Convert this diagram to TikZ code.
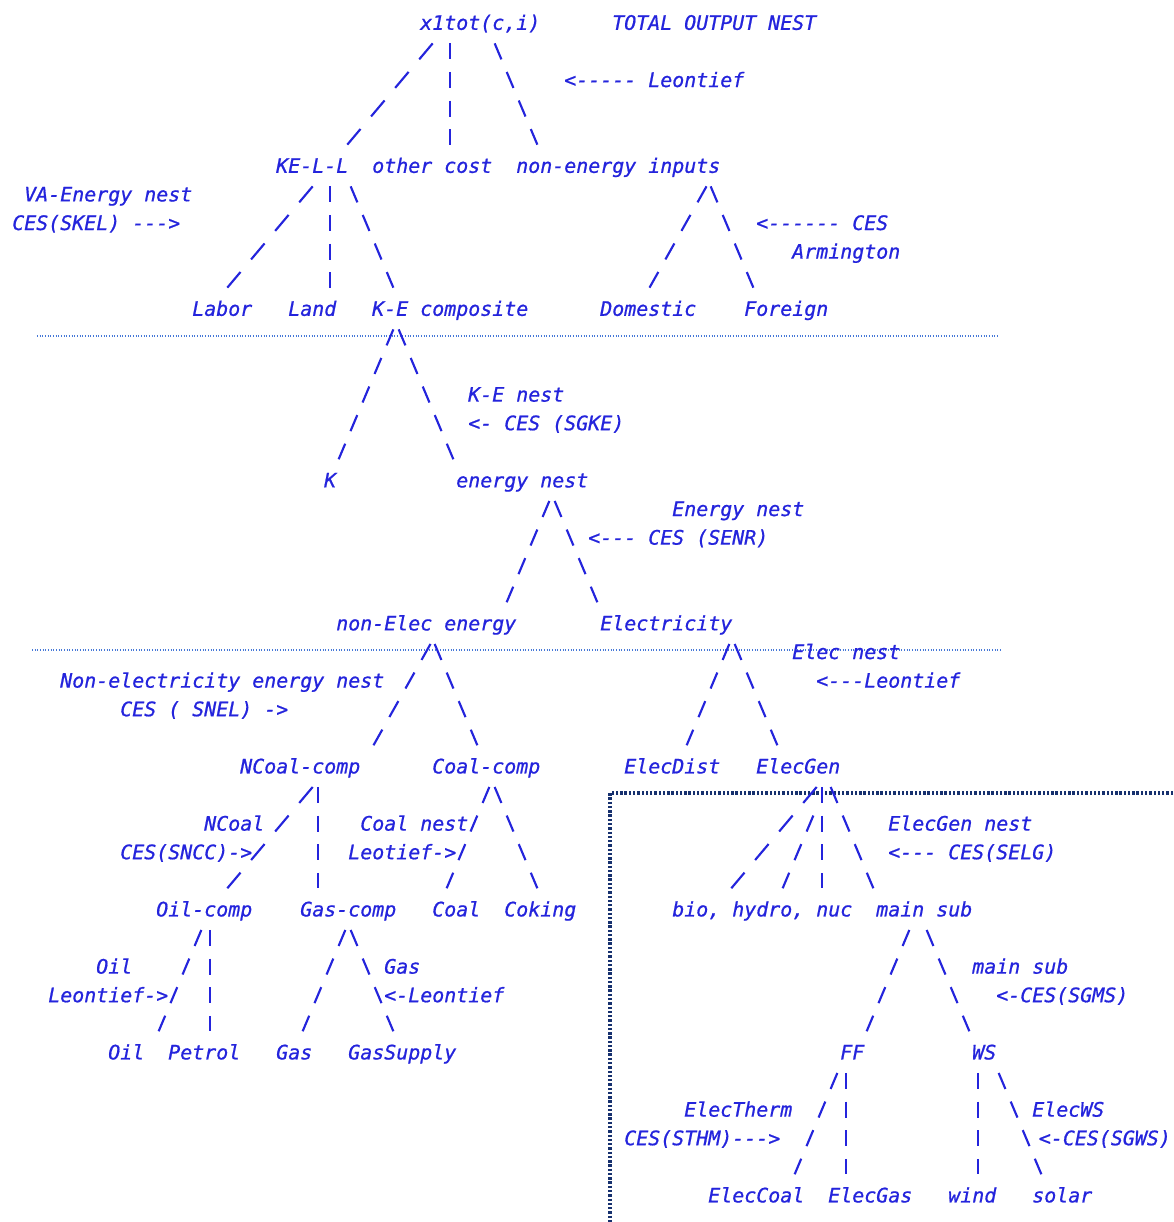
\documentclass[tikz,border=0pt]{standalone}
\usepackage{fontspec}
\newfontfamily\asc{DejaVu Sans Mono}[FakeBold=0.8]
\definecolor{ink}{RGB}{36,36,220}
\definecolor{rulecol}{RGB}{70,120,215}
\definecolor{framecol}{RGB}{22,48,110}
\tikzset{
  txt/.style={font=\fontsize{14.95}{18}\asc\itshape, text=ink, inner sep=0pt, anchor=west,
    text height=16.2pt, text depth=5.25pt},
  branch/.code={\pgfmathsetmacro\brk{sqrt(1+(0.4196*(#1))^2)}%
    \pgfmathsetmacro\bron{12*\brk}\pgfmathsetmacro\broff{9.45*\brk}\pgfmathsetmacro\brcut{4.725*\brk}%
    \tikzset{draw=ink, line width=1.6pt, dash pattern=on \bron pt off \broff pt,
      shorten <=\brcut pt, shorten >=\brcut pt}},
  sepline/.style={draw=rulecol, line width=0.8pt, dash pattern=on 0.8pt off 1.2pt},
  boxline/.style={draw=framecol, line width=2.3pt, dash pattern=on 1.8pt off 1.4pt},
}
\begin{document}
\begin{tikzpicture}[x=9pt, y=-21.45pt]
\useasboundingbox (0,-0.787) rectangle (97.75,41.94);
\draw[sepline] (3.08,10.96) -- (83.17,10.96);
\draw[sepline] (2.67,21.94) -- (83.42,21.94);
\draw[boxline] (97.75,26.94) -- (50.83,26.94) -- (50.83,41.94);

\node[txt] (top) at (35,0) {x1tot(c,i)};
\node[txt] (tnest) at (51,0) {TOTAL OUTPUT NEST};
\node[txt] (leo1) at (47,2) {<----- Leontief};
\node[txt] (kel) at (23,5) {KE-L-L};
\node[txt] (oth) at (31,5) {other cost};
\node[txt] (nei) at (43,5) {non-energy inputs};
\node[txt] (vanest) at (2,6) {VA-Energy nest};
\node[txt] (skel) at (1,7) {CES(SKEL) --->};
\node[txt] (arm1) at (63,7) {<------ CES};
\node[txt] (arm2) at (66,8) {Armington};
\node[txt] (lab) at (16,10) {Labor};
\node[txt] (lnd) at (24,10) {Land};
\node[txt] (kec) at (31,10) {K-E composite};
\node[txt] (dom) at (50,10) {Domestic};
\node[txt] (frn) at (62,10) {Foreign};
\node[txt] (kenest) at (39,13) {K-E nest};
\node[txt] (sgke) at (39,14) {<- CES (SGKE)};
\node[txt] (kk) at (27,16) {K};
\node[txt] (en) at (38,16) {energy nest};
\node[txt] (ennest) at (56,17) {Energy nest};
\node[txt] (senr) at (49,18) {<--- CES (SENR)};
\node[txt] (ne) at (28,21) {non-Elec energy};
\node[txt] (el) at (50,21) {Electricity};
\node[txt] (elnest) at (66,22) {Elec nest};
\node[txt] (nenest) at (5,23) {Non-electricity energy nest};
\node[txt] (leo2) at (68,23) {<---Leontief};
\node[txt] (snel) at (10,24) {CES ( SNEL) ->};
\node[txt] (nc) at (20,26) {NCoal-comp};
\node[txt] (cc) at (36,26) {Coal-comp};
\node[txt] (ed) at (52,26) {ElecDist};
\node[txt] (eg) at (63,26) {ElecGen};
\node[txt] (ncnest) at (17,28) {NCoal};
\node[txt] (ccnest) at (30,28) {Coal nest};
\node[txt] (egnest) at (74,28) {ElecGen nest};
\node[txt] (sncc) at (10,29) {CES(SNCC)->};
\node[txt] (leo3) at (29,29) {Leotief->};
\node[txt] (selg) at (74,29) {<--- CES(SELG)};
\node[txt] (oc) at (13,31) {Oil-comp};
\node[txt] (gc) at (25,31) {Gas-comp};
\node[txt] (co) at (36,31) {Coal};
\node[txt] (ck) at (42,31) {Coking};
\node[txt] (bio) at (56,31) {bio,};
\node[txt] (hyd) at (61,31) {hydro,};
\node[txt] (nuc) at (68,31) {nuc};
\node[txt] (ms) at (73,31) {main sub};
\node[txt] (ocnest) at (8,33) {Oil};
\node[txt] (gcnest) at (32,33) {Gas};
\node[txt] (msnest) at (81,33) {main sub};
\node[txt] (leo4) at (4,34) {Leontief->};
\node[txt] (leo5) at (32,34) {<-Leontief};
\node[txt] (sgms) at (83,34) {<-CES(SGMS)};
\node[txt] (oil) at (9,36) {Oil};
\node[txt] (pet) at (14,36) {Petrol};
\node[txt] (gas) at (23,36) {Gas};
\node[txt] (gsu) at (29,36) {GasSupply};
\node[txt] (ff) at (70,36) {FF};
\node[txt] (ws) at (81,36) {WS};
\node[txt] (ffnest) at (57,38) {ElecTherm};
\node[txt] (wsnest) at (86,38) {ElecWS};
\node[txt] (sthm) at (52,39) {CES(STHM)--->};
\node[txt] (sgws) at (86.55,39) {<-CES(SGWS)};
\node[txt] (ecl) at (59,41) {ElecCoal};
\node[txt] (egs) at (69,41) {ElecGas};
\node[txt] (wnd) at (79,41) {wind};
\node[txt] (sol) at (86,41) {solar};

\draw[branch=-2] ([shift={(1.5,0)}]top.south west) -- ([shift={(5.5,0)}]kel.north west);
\draw[branch=0] ([shift={(2.5,0)}]top.south west) -- ([shift={(6.5,0)}]oth.north west);
\draw[branch=1] ([shift={(6,0)}]top.south west) -- ([shift={(2,0)}]nei.north west);
\draw[branch=-2] ([shift={(3.5,0)}]kel.south west) -- ([shift={(2.5,0)}]lab.north west);
\draw[branch=0] ([shift={(4.5,0)}]kel.south west) -- ([shift={(3.5,0)}]lnd.north west);
\draw[branch=1] ([shift={(6,0)}]kel.south west) -- ([shift={(2,0)}]kec.north west);
\draw[branch=-1.33] ([shift={(16.17,0)}]nei.south west) -- ([shift={(3.83,0)}]dom.north west);
\draw[branch=1] ([shift={(16,0)}]nei.south west) -- ([shift={(1,0)}]frn.north west);
\draw[branch=-1] ([shift={(2,0)}]kec.south west) -- ([shift={(1,0)}]kk.north west);
\draw[branch=1] ([shift={(2,0)}]kec.south west) -- (en.north west);
\draw[branch=-1] ([shift={(8,0)}]en.south west) -- ([shift={(14,0)}]ne.north west);
\draw[branch=1] ([shift={(8,0)}]en.south west) -- (el.north west);
\draw[branch=-1.33] ([shift={(8.17,0)}]ne.south west) -- ([shift={(10.83,0)}]nc.north west);
\draw[branch=1] ([shift={(8,0)}]ne.south west) -- ([shift={(4,0)}]cc.north west);
\draw[branch=-1] ([shift={(11,0)}]el.south west) -- ([shift={(5,0)}]ed.north west);
\draw[branch=1] ([shift={(11,0)}]el.south west) -- ([shift={(2,0)}]eg.north west);
\draw[branch=-2] ([shift={(6.5,0)}]nc.south west) -- ([shift={(5.5,0)}]oc.north west);
\draw[branch=0] ([shift={(6.5,0)}]nc.south west) -- ([shift={(1.5,0)}]gc.north west);
\draw[branch=-1] ([shift={(5,0)}]cc.south west) -- ([shift={(1,0)}]co.north west);
\draw[branch=1] ([shift={(5,0)}]cc.south west) -- ([shift={(3,0)}]ck.north west);
\draw[branch=-2] ([shift={(5.5,0)}]eg.south west) -- ([shift={(4.5,0)}]bio.north west);
\draw[branch=-1] ([shift={(5,1)}]eg.south west) -- ([shift={(4,0)}]hyd.north west);
\draw[branch=0] ([shift={(5.5,0)}]eg.south west) -- ([shift={(0.5,0)}]nuc.north west);
\draw[branch=1] ([shift={(6,0)}]eg.south west) -- (ms.north west);
\draw[branch=-1] ([shift={(4,0)}]oc.south west) -- ([shift={(4,0)}]oil.north west);
\draw[branch=0] ([shift={(4.5,0)}]oc.south west) -- ([shift={(3.5,0)}]pet.north west);
\draw[branch=-1] ([shift={(4,0)}]gc.south west) -- ([shift={(2,0)}]gas.north west);
\draw[branch=1] ([shift={(4,0)}]gc.south west) -- ([shift={(4,0)}]gsu.north west);
\draw[branch=-1] ([shift={(3,0)}]ms.south west) -- ([shift={(2,0)}]ff.north west);
\draw[branch=1] ([shift={(4,0)}]ms.south west) -- (ws.north west);
\draw[branch=-1] (ff.south west) -- ([shift={(7,0)}]ecl.north west);
\draw[branch=0] ([shift={(0.5,0)}]ff.south west) -- ([shift={(1.5,0)}]egs.north west);
\draw[branch=0] ([shift={(0.5,0)}]ws.south west) -- ([shift={(2.5,0)}]wnd.north west);
\draw[branch=1] ([shift={(2,0)}]ws.south west) -- ([shift={(1,0)}]sol.north west);
\end{tikzpicture}
\end{document}
